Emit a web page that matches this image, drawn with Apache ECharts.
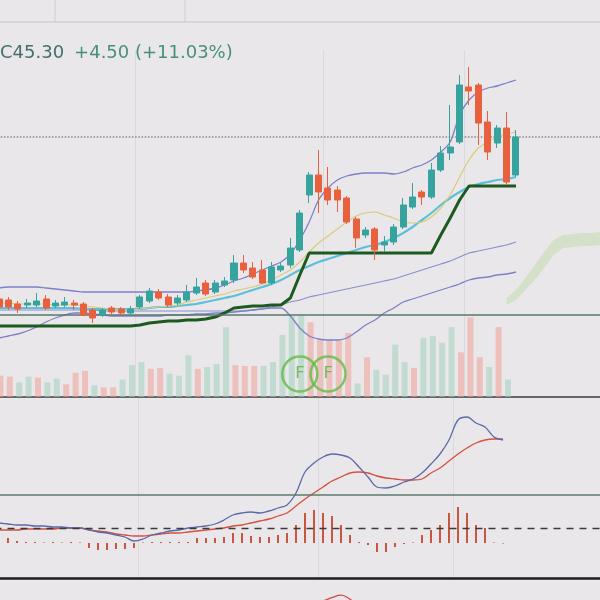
<!DOCTYPE html>
<html><head><meta charset="utf-8">
<style>html,body{margin:0;padding:0;background:#e9e7ea;overflow:hidden;width:600px;height:600px;position:relative;}
#c{position:absolute;left:-20px;top:0;width:640px;height:700px;}</style>
<script src="https://cdn.jsdelivr.net/npm/echarts@6/dist/echarts.min.js"></script>
</head><body><div id="c"></div><script>
// ---- data ----
const candles = [ // [open, close, low, high]
[29.1,28.3,28.1,29.4],[29.0,28.3,28.0,29.3],[28.6,28.1,27.7,28.9],[28.5,28.7,28.2,29.1],
[28.5,28.9,28.3,29.7],[29.1,28.2,28.0,29.5],[28.4,28.7,28.2,29.0],[28.5,28.8,28.3,29.3],
[28.7,28.5,28.0,29.0],[28.6,27.5,27.4,28.8],[28.0,27.2,26.7,28.2],[27.5,28.0,27.3,28.2],
[28.2,27.8,27.6,28.4],[28.1,27.7,27.5,28.3],[27.7,28.1,27.5,28.4],[28.3,29.3,28.1,29.5],
[28.9,29.9,28.7,30.2],[29.8,29.2,29.0,30.1],[29.3,28.5,28.3,29.6],[28.7,29.2,28.5,29.5],
[29.0,29.8,28.8,30.5],[29.7,30.3,29.5,31.2],[30.7,29.6,29.4,31.0],[29.8,30.7,29.6,31.0],
[30.5,30.9,30.3,31.3],[31.0,32.7,30.7,33.5],[32.7,32.0,31.7,33.5],[32.2,31.3,31.1,32.8],
[32.0,30.7,30.6,33.0],[30.7,32.3,30.5,32.8],[32.0,32.4,31.8,32.7],[32.5,34.2,32.2,35.2],
[34.0,37.7,33.8,38.0],[39.5,41.5,38.7,41.8],[41.5,39.8,37.7,44.0],[40.2,39.0,38.5,42.3],
[40.0,39.0,37.8,40.4],[39.2,36.8,36.6,39.4],[37.1,35.2,34.2,37.3],[35.5,36.0,35.2,36.3],
[36.1,34.0,33.0,36.3],[34.5,34.8,33.8,35.4],[34.8,36.3,34.5,36.6],[36.3,38.5,36.1,39.2],
[38.3,39.3,38.1,40.7],[39.8,39.3,38.5,40.0],[39.3,42.0,39.1,42.7],[42.0,43.7,41.8,44.4],
[43.7,44.3,43.0,48.5],[44.8,50.5,44.6,51.5],[50.3,49.9,48.5,52.3],[50.5,46.7,44.5,50.7],
[46.8,43.8,43.0,47.9],[44.7,46.2,44.2,46.5],[46.2,40.8,40.5,47.8],[41.5,45.3,41.3,46.0]
];
const volumes = [38,22,21,15,21,20,15,19,13,25,27,12,10,10,18,33,36,29,30,24,22,43,29,31,34,72,33,32,32,32,36,64,84,84,77,59,59,59,66,14,41,28,23,54,36,30,61,63,56,72,46,82,41,31,72,18];
const bbUpper = [30.2,30.3,30.3,30.3,30.3,30.2,30.1,30.0,29.9,29.8,29.8,29.8,29.8,29.8,29.8,29.8,29.8,29.8,29.8,29.8,29.8,29.9,30.0,30.2,30.5,30.9,31.2,31.6,32.0,32.4,32.8,33.6,35.0,36.8,39.0,40.2,41.0,41.4,41.6,41.7,41.7,41.7,41.6,41.8,42.2,42.5,43.0,43.8,44.8,47.5,49.0,49.8,50.2,50.4,50.7,51.0];
const maYellow = [28.7,28.7,28.6,28.6,28.6,28.6,28.5,28.5,28.5,28.4,28.3,28.2,28.1,28.0,28.0,28.1,28.2,28.3,28.4,28.5,28.8,29.0,29.2,29.4,29.6,29.9,30.1,30.3,30.6,31.0,31.5,32.0,32.8,33.8,34.7,35.4,36.1,36.8,37.4,37.7,37.8,37.5,37.2,36.8,36.7,36.8,37.3,38.2,39.5,41.3,43.0,44.2,44.8,45.3,45.6,45.8];
const maCyan = [28.2,28.2,28.2,28.2,28.2,28.2,28.2,28.2,28.2,28.1,28.1,28.1,28.1,28.1,28.1,28.1,28.2,28.3,28.3,28.4,28.5,28.6,28.8,29.0,29.2,29.4,29.7,30.0,30.3,30.6,31.0,31.5,32.0,32.4,32.8,33.1,33.4,33.7,34.0,34.3,34.5,34.8,35.2,35.7,36.3,37.0,37.7,38.5,39.2,39.8,40.3,40.6,40.8,41.0,41.1,41.3];
const baseLine = [26.4,26.4,26.4,26.4,26.4,26.4,26.4,26.4,26.4,26.4,26.4,26.4,26.4,26.4,26.4,26.5,26.7,26.8,26.9,26.9,27.0,27.0,27.1,27.3,27.7,28.2,28.3,28.4,28.4,28.5,28.5,29.2,31.5,33.7,33.7,33.7,33.7,33.7,33.7,33.7,33.7,33.7,33.7,33.7,33.7,33.7,33.7,35.5,37.2,39.0,40.4,40.4,40.4,40.4,40.4,40.4];
const bbLower = [25.2,25.4,25.6,25.9,26.3,26.8,27.2,27.5,27.7,27.7,27.6,27.5,27.4,27.4,27.4,27.4,27.4,27.4,27.5,27.5,27.5,27.6,27.6,27.7,27.7,27.8,27.9,28.0,28.1,28.2,28.2,27.4,26.2,25.4,25.1,25.0,25.0,25.2,25.8,26.5,27.0,27.7,28.2,28.8,29.1,29.4,29.7,30.0,30.3,30.6,31.0,31.2,31.3,31.5,31.6,31.8];
const maLavender = [28.0,28.0,28.0,28.0,28.0,28.0,28.0,28.0,28.0,28.0,28.0,27.9,27.9,27.9,27.9,27.9,27.9,27.9,27.9,27.9,27.9,27.9,27.9,27.9,27.9,27.9,27.9,28.0,28.1,28.3,28.5,28.8,29.0,29.3,29.5,29.7,29.9,30.1,30.3,30.5,30.7,30.9,31.1,31.4,31.7,32.0,32.3,32.6,32.9,33.3,33.7,33.9,34.1,34.3,34.5,34.8];
const cloudStart = 54;
const cloudUpper = [29.2,30.0,31.2,32.5,33.8,35.0,35.5,35.6,35.7,35.7,35.8];
const cloudLower = [28.5,29.0,30.0,31.0,32.2,33.5,34.2,34.3,34.4,34.4,34.5];
// MACD panel: the first value is the day before the first candle (its line enters from the left edge)
const macdDif = [0.05,0.04,0.03,0.03,0.02,0.02,0.01,0.01,0.00,0.00,-0.02,-0.04,-0.05,-0.07,-0.09,-0.13,-0.11,-0.07,-0.05,-0.03,-0.02,0.00,0.01,0.02,0.04,0.08,0.13,0.15,0.16,0.15,0.17,0.20,0.23,0.35,0.56,0.65,0.71,0.74,0.73,0.70,0.61,0.51,0.41,0.40,0.42,0.46,0.49,0.55,0.64,0.74,0.88,1.08,1.11,1.05,1.01,0.91,0.88];
const macdDea = [-0.02,-0.02,-0.02,-0.01,-0.01,-0.01,-0.01,0.00,0.00,0.00,-0.02,-0.03,-0.04,-0.06,-0.07,-0.08,-0.08,-0.07,-0.06,-0.05,-0.05,-0.04,-0.03,-0.02,-0.01,0.00,0.02,0.03,0.05,0.07,0.09,0.12,0.15,0.22,0.29,0.35,0.41,0.47,0.51,0.55,0.56,0.55,0.52,0.50,0.49,0.48,0.48,0.49,0.55,0.60,0.67,0.74,0.80,0.85,0.88,0.89,0.89];
const macdHist = ['-',0.10,0.04,0.02,0.02,0.01,0.02,0.01,0.02,0.01,-0.10,-0.14,-0.14,-0.12,-0.12,-0.10,0.01,0.02,0.02,0.02,0.02,0.02,0.10,0.10,0.10,0.12,0.20,0.20,0.14,0.12,0.12,0.16,0.20,0.36,0.60,0.66,0.60,0.54,0.36,0.16,0.02,-0.04,-0.18,-0.18,-0.08,-0.02,0.01,0.16,0.26,0.36,0.60,0.72,0.60,0.36,0.30,0.01,-0.01];
const rsi = [50,48,47,46,47,49,47,48,49,48,43,40,43,42,41,44,50,54,51,47,50,53,56,52,55,57,63,60,57,54,59,60,65,70,72,73,74,78,81,76,68,62,60,63,67,69,67,70,72,73,74,73,66,60,63,55,62];
const lastClose = 45.30, prevClose = 40.80;
const supportLevel = 27.5;
const macdRefLevel = 0.33;
const fMarkIdx = [32, 35];
const fMarkLevel = 21.6;
const monthStarts = [15, 35, 50];
const categories = Array.from({length: 65}, (_, i) => 'D' + (i + 1));
const lowerCats = ['D0'].concat(categories, ['D66', 'D67']);

// ---- build ----
const OX = 20; // chart canvas is offset 20px to the left of the page
const UP = '#37a39f', DOWN = '#e8603d';
const volUp = 'rgba(160,210,186,0.55)', volDown = 'rgba(242,160,150,0.55)';
const cloudBase = categories.map((_, i) => i >= cloudStart ? cloudLower[i - cloudStart] : '-');
const cloudBand = categories.map((_, i) => i >= cloudStart ? +(cloudUpper[i - cloudStart] - cloudLower[i - cloudStart]).toFixed(2) : '-');
const chg = lastClose - prevClose, pct = chg / prevClose * 100;
const line = (name, data, color, width, z, smooth) => ({
  name, type: 'line', data, xAxisIndex: 0, yAxisIndex: 0, symbol: 'none', smooth: smooth === undefined ? 0.3 : smooth,
  lineStyle: {color, width}, z, silent: true
});

const chart = echarts.init(document.getElementById('c'));
chart.setOption({
  animation: false,
  backgroundColor: '#e9e7ea',
  title: {
    text: '{a|C' + lastClose.toFixed(2) + '}  {b|+' + chg.toFixed(2) + ' (+' + pct.toFixed(2) + '%)}',
    left: OX, top: 44, padding: 0,
    textStyle: {fontWeight: 'normal', rich: {
      a: {color: '#43706d', fontSize: 18, fontFamily: 'DejaVu Sans', fontWeight: 'normal'},
      b: {color: '#468f7e', fontSize: 18, fontFamily: 'DejaVu Sans', fontWeight: 'normal'}
    }}
  },
  graphic: [
    {type: 'line', shape: {x1: 0, y1: 22, x2: 640, y2: 22}, style: {stroke: '#c6c5ca', lineWidth: 1}},
    {type: 'line', shape: {x1: OX + 55, y1: 0, x2: OX + 55, y2: 22}, style: {stroke: '#cfced3', lineWidth: 1}},
    {type: 'line', shape: {x1: OX + 185, y1: 0, x2: OX + 185, y2: 22}, style: {stroke: '#cfced3', lineWidth: 1}}
  ],
  grid: [
    {left: 14.3, right: 14.7, top: 50, height: 347},
    {left: 6.3, right: 22.7, top: 300, height: 97},
    {left: 14.5, right: 13.5, top: 398, height: 180},
    {left: 14.5, right: 13.5, top: 580, height: 80}
  ],
  xAxis: [
    {type: 'category', gridIndex: 0, data: categories, boundaryGap: true,
      axisLine: {show: true, onZero: false, lineStyle: {color: '#3a3d3c', width: 1.5}}, axisTick: {show: false}, axisLabel: {show: false},
      splitLine: {show: true, interval: (i) => monthStarts.includes(i), lineStyle: {color: 'rgba(0,0,0,0.06)'}}},
    {type: 'category', gridIndex: 1, data: categories, show: false},
    {type: 'category', gridIndex: 2, data: lowerCats, boundaryGap: true,
      axisLine: {show: true, onZero: false, lineStyle: {color: '#1e1e1e', width: 2.5}}, axisTick: {show: false}, axisLabel: {show: false},
      splitLine: {show: true, interval: (i) => monthStarts.includes(i - 1), lineStyle: {color: 'rgba(0,0,0,0.06)'}}},
    {type: 'category', gridIndex: 3, data: lowerCats, show: false}
  ],
  yAxis: [
    {type: 'value', gridIndex: 0, min: 19.3, max: 54.0, show: false},
    {type: 'value', gridIndex: 1, min: 0, max: 100, show: false},
    {type: 'value', gridIndex: 2, min: -0.5, max: 1.3, show: false},
    {type: 'value', gridIndex: 2, min: -0.7, max: 2.9, show: false},
    {type: 'value', gridIndex: 3, min: 0, max: 100, show: false}
  ],
  series: [
    {name: 'volume', type: 'bar', xAxisIndex: 1, yAxisIndex: 1, barWidth: 6, z: 1, silent: true,
      data: volumes.map((v, i) => ({value: v, itemStyle: {color: candles[i][1] >= candles[i][0] ? volUp : volDown}}))},
    {name: 'cloudBase', type: 'line', xAxisIndex: 0, yAxisIndex: 0, stack: 'cloud', data: cloudBase, symbol: 'none',
      lineStyle: {width: 0, opacity: 0}, z: 2, silent: true},
    {name: 'cloud', type: 'line', xAxisIndex: 0, yAxisIndex: 0, stack: 'cloud', data: cloudBand, symbol: 'none',
      lineStyle: {width: 0, opacity: 0}, areaStyle: {color: '#d3e0c6', opacity: 0.95}, z: 2, silent: true},
    line('lavender', maLavender, '#8c8ed2', 1.2, 3),
    line('bbLower', bbLower, '#7e80c8', 1.3, 3),
    line('bbUpper', bbUpper, '#7e80c8', 1.3, 3),
    line('cyan', maCyan, '#5cc0da', 2.2, 3),
    line('yellow', maYellow, '#dccb74', 1.2, 3),
    line('base', baseLine, '#1c5a1f', 3, 3, false),
    {name: 'price', type: 'candlestick', xAxisIndex: 0, yAxisIndex: 0, data: candles, barWidth: 6.5, z: 5, silent: true,
      itemStyle: {color: UP, color0: DOWN, borderColor: UP, borderColor0: DOWN, borderWidth: 1},
      markLine: {symbol: 'none', silent: true, label: {show: false},
        data: [
          {yAxis: lastClose, lineStyle: {type: 'dotted', color: '#8c8c8e', width: 1.6}},
          {yAxis: supportLevel, lineStyle: {type: 'solid', color: '#577a6b', width: 1.5}}
        ]}},
    {name: 'F', type: 'scatter', xAxisIndex: 0, yAxisIndex: 0, z: 6, silent: true,
      data: fMarkIdx.map(i => [i, fMarkLevel]), symbol: 'circle', symbolSize: 35,
      itemStyle: {color: 'rgba(0,0,0,0)', borderColor: '#64bb44', borderWidth: 2.5},
      label: {show: true, position: 'inside', formatter: 'F', color: '#58b03c', fontSize: 16, fontFamily: 'DejaVu Sans'}},
    {name: 'hist', type: 'bar', xAxisIndex: 2, yAxisIndex: 3, data: macdHist, barWidth: 1.8, z: 2, silent: true,
      itemStyle: {color: '#c8442f'}},
    {name: 'DIF', type: 'line', xAxisIndex: 2, yAxisIndex: 2, data: macdDif, symbol: 'none', smooth: 0.35, z: 4, silent: true,
      lineStyle: {color: '#5b6aa8', width: 1.3},
      markLine: {symbol: 'none', silent: true, label: {show: false},
        data: [
          {yAxis: 0, lineStyle: {type: [7, 6], color: '#3a3a3a', width: 1.3}},
          {yAxis: macdRefLevel, lineStyle: {type: 'solid', color: '#5a7c6a', width: 1.6}}
        ]}},
    {name: 'DEA', type: 'line', xAxisIndex: 2, yAxisIndex: 2, data: macdDea, symbol: 'none', smooth: 0.35, z: 3, silent: true,
      lineStyle: {color: '#d4523e', width: 1.3}},
    {name: 'RSI', type: 'line', xAxisIndex: 3, yAxisIndex: 4, data: rsi, symbol: 'none', smooth: 0.4, silent: true,
      lineStyle: {color: '#d04a3a', width: 1.3}}
  ]
});
</script></body></html>
